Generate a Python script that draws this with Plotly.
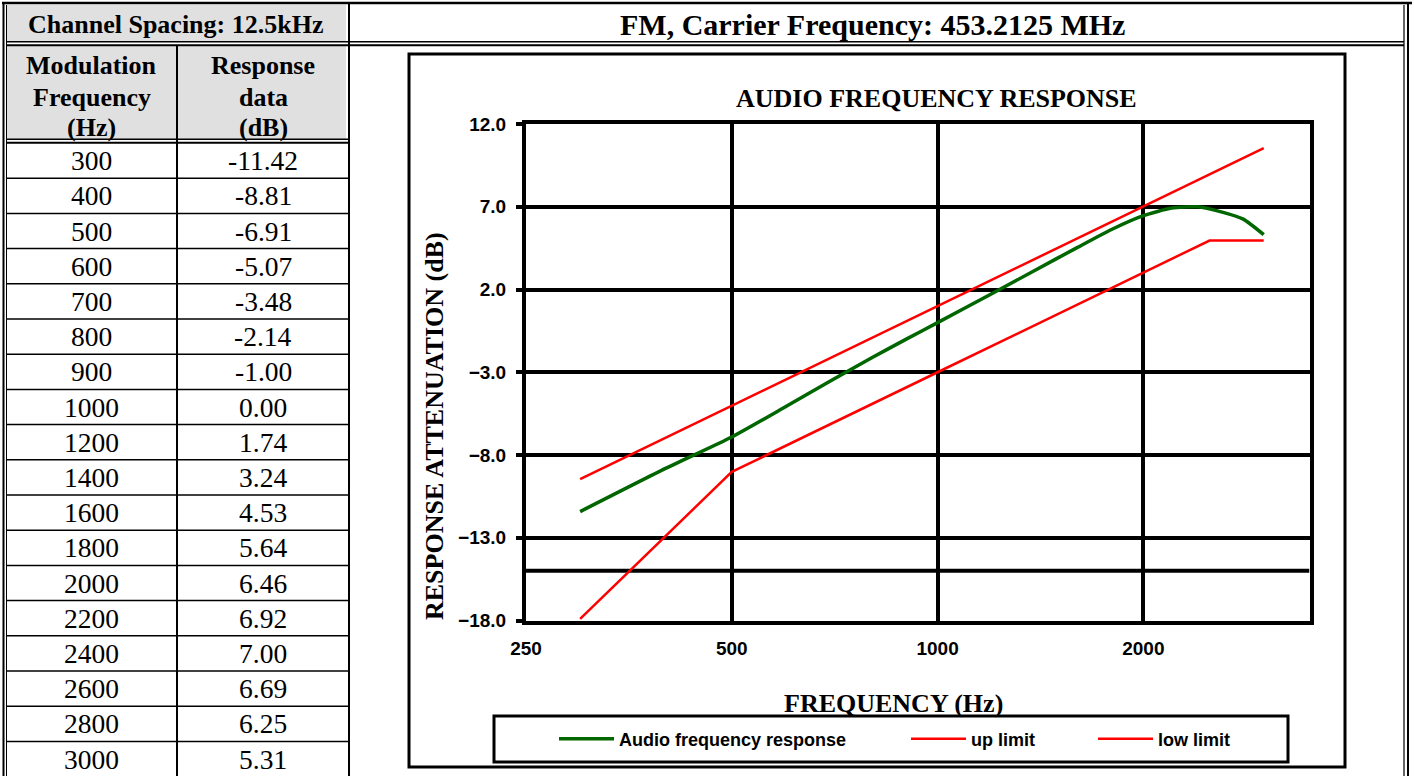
import math
import plotly.graph_objects as go

W, H = 1414, 776

# ---- data -------------------------------------------------------------
mod_freq_hz = [300, 400, 500, 600, 700, 800, 900, 1000, 1200, 1400,
               1600, 1800, 2000, 2200, 2400, 2600, 2800, 3000]
response_db = [-11.42, -8.81, -6.91, -5.07, -3.48, -2.14, -1.00, 0.00, 1.74, 3.24,
               4.53, 5.64, 6.46, 6.92, 7.00, 6.69, 6.25, 5.31]

up_limit_freq = [300, 500, 1000, 2000, 3000]
up_limit_db = [-9.46, -5.02, 1.00, 7.02, 10.54]

low_limit_freq = [300, 500, 1000, 2000, 2500, 3000]
low_limit_db = [-17.9, -9.02, -3.00, 3.02, 4.96, 4.96]

extra_line_db = -15.0

x_tick_vals = [250, 500, 1000, 2000]
x_tick_text = ["250", "500", "1000", "2000"]
y_tick_vals = [-18, -13, -8, -3, 2, 7, 12]
x_range_hz = [250, 3500]
y_range_db = [-18, 12]

channel_spacing = "Channel Spacing: 12.5kHz"
carrier_title = "FM, Carrier Frequency: 453.2125 MHz"
col_headers = [["Modulation", "Frequency", "(Hz)"], ["Response", "data", "(dB)"]]


# ---- helpers: pixel -> paper -----------------------------------------
def px(x):
    return x / W


def py(y):
    return 1 - y / H


shapes = []
annotations = []


def hline(y, x0, x1, w=1.5):
    shapes.append(dict(type="line", xref="paper", yref="paper",
                       x0=px(x0), x1=px(x1), y0=py(y), y1=py(y),
                       line=dict(color="black", width=w)))


def vline(x, y0, y1, w=1.5):
    shapes.append(dict(type="line", xref="paper", yref="paper",
                       x0=px(x), x1=px(x), y0=py(y0), y1=py(y1),
                       line=dict(color="black", width=w)))


def rect(x0, y0, x1, y1, fill=None, w=0):
    shapes.append(dict(type="rect", xref="paper", yref="paper",
                       x0=px(x0), x1=px(x1), y0=py(y0), y1=py(y1),
                       fillcolor=fill if fill else "rgba(0,0,0,0)",
                       line=dict(color="black", width=w), layer="below"))


def text(x, y, s, size=26, bold=False, family="Liberation Serif", angle=0):
    annotations.append(dict(xref="paper", yref="paper", x=px(x), y=py(y),
                            text=s, showarrow=False, textangle=angle,
                            xanchor="center", yanchor="middle",
                            font=dict(family=family, size=size, color="black",
                                      weight="bold" if bold else "normal")))


# ---- table on the left ------------------------------------------------
GRAY = "#e0e0e0"
rect(6, 5, 346, 41, fill=GRAY)
rect(6, 46, 346, 139, fill=GRAY)

# outer frame
hline(3, 2, 1412, 2.5)
vline(3.5, 2, 776, 2)
vline(6.5, 5, 776, 1)
vline(1404, 5, 776, 1.2)
vline(1408, 2, 776, 2)
# header separators
hline(41.8, 6, 1404, 1.5)
hline(45.2, 6, 1404, 2)
hline(139.2, 6, 349, 1.5)
hline(142.8, 6, 349, 2)
# column dividers
vline(349, 3, 776, 2)
vline(177, 45, 776, 2)

row_top = 143.0
row_h = 35.2
for k in range(1, len(mod_freq_hz)):
    hline(row_top + k * row_h, 6, 349, 1.5)

text(175, 24, channel_spacing, size=26, bold=True)
text(873, 25, carrier_title, size=30, bold=True)

line_y = [65, 97, 128]
for col_x, lines in zip([91.5, 263], col_headers):
    for ly, s in zip(line_y, lines):
        text(col_x, ly, s, size=26, bold=True)

for i, (f, r) in enumerate(zip(mod_freq_hz, response_db)):
    cy = row_top + (i + 0.5) * row_h
    text(91.5, cy, str(f), size=27.5)
    text(263, cy, f"{r:.2f}", size=27.5)

# ---- chart frame ------------------------------------------------------
rect(409, 54, 1345, 767, w=3)
rect(494, 716, 1288, 762, w=3)

SANS = "Liberation Sans"
text(937, 98, "AUDIO FREQUENCY RESPONSE", size=26, bold=True)
text(894, 703, "FREQUENCY (Hz)", size=26, bold=True)
text(434, 426, "RESPONSE ATTENUATION (dB)", size=26, bold=True, angle=-90)

# extra horizontal reference line inside the plot
shapes.append(dict(type="line", xref="x", yref="y",
                   x0=x_range_hz[0], x1=x_range_hz[1],
                   y0=extra_line_db, y1=extra_line_db,
                   line=dict(color="black", width=4), layer="below"))

fig = go.Figure()
fig.add_trace(go.Scatter(x=mod_freq_hz, y=response_db, mode="lines",
                         name="Audio frequency response",
                         line=dict(color="#006600", width=3.5, shape="spline", smoothing=0.6),
                         legend="legend"))
fig.add_trace(go.Scatter(x=up_limit_freq, y=up_limit_db, mode="lines",
                         name="up limit", line=dict(color="#ff0000", width=2.5),
                         legend="legend2"))
fig.add_trace(go.Scatter(x=low_limit_freq, y=low_limit_db, mode="lines",
                         name="low limit", line=dict(color="#ff0000", width=2.5),
                         legend="legend3"))

leg_font = dict(family=SANS, size=18, color="black", weight="bold")


def legend_at(x_left):
    return dict(x=px(x_left), y=py(739), xanchor="left", yanchor="middle",
                orientation="h", bgcolor="rgba(0,0,0,0)", borderwidth=0,
                font=leg_font, itemwidth=55)


tick_font = dict(family=SANS, size=19, color="black", weight="bold")

fig.update_layout(
    width=W, height=H,
    margin=dict(l=0, r=0, t=0, b=0, pad=0, autoexpand=False),
    paper_bgcolor="white", plot_bgcolor="white",
    showlegend=True,
    legend=legend_at(554),
    legend2=legend_at(906),
    legend3=legend_at(1093),
    xaxis=dict(type="log", automargin=False,
               domain=[px(526), px(1309.5)],
               range=[math.log10(x_range_hz[0]), math.log10(x_range_hz[1])],
               tickvals=x_tick_vals, ticktext=x_tick_text,
               showgrid=True, gridcolor="black", gridwidth=4,
               showline=True, linecolor="black", linewidth=4, mirror=True,
               ticks="", zeroline=False,
               tickfont=tick_font,
               ticklabelstandoff=8),
    yaxis=dict(automargin=False,
               domain=[py(620.5), py(124)],
               range=y_range_db,
               tickvals=y_tick_vals, tickformat=".1f",
               showgrid=True, gridcolor="black", gridwidth=4,
               showline=True, linecolor="black", linewidth=4, mirror=True,
               ticks="outside", ticklen=6, tickwidth=4, tickcolor="black",
               zeroline=False,
               tickfont=tick_font,
               ticklabelstandoff=6),
    shapes=shapes,
    annotations=annotations,
)

fig.write_html(
    "out.html",
    config={"displayModeBar": False},
    post_script="document.body.style.margin='0';document.body.style.overflow='hidden';",
)
